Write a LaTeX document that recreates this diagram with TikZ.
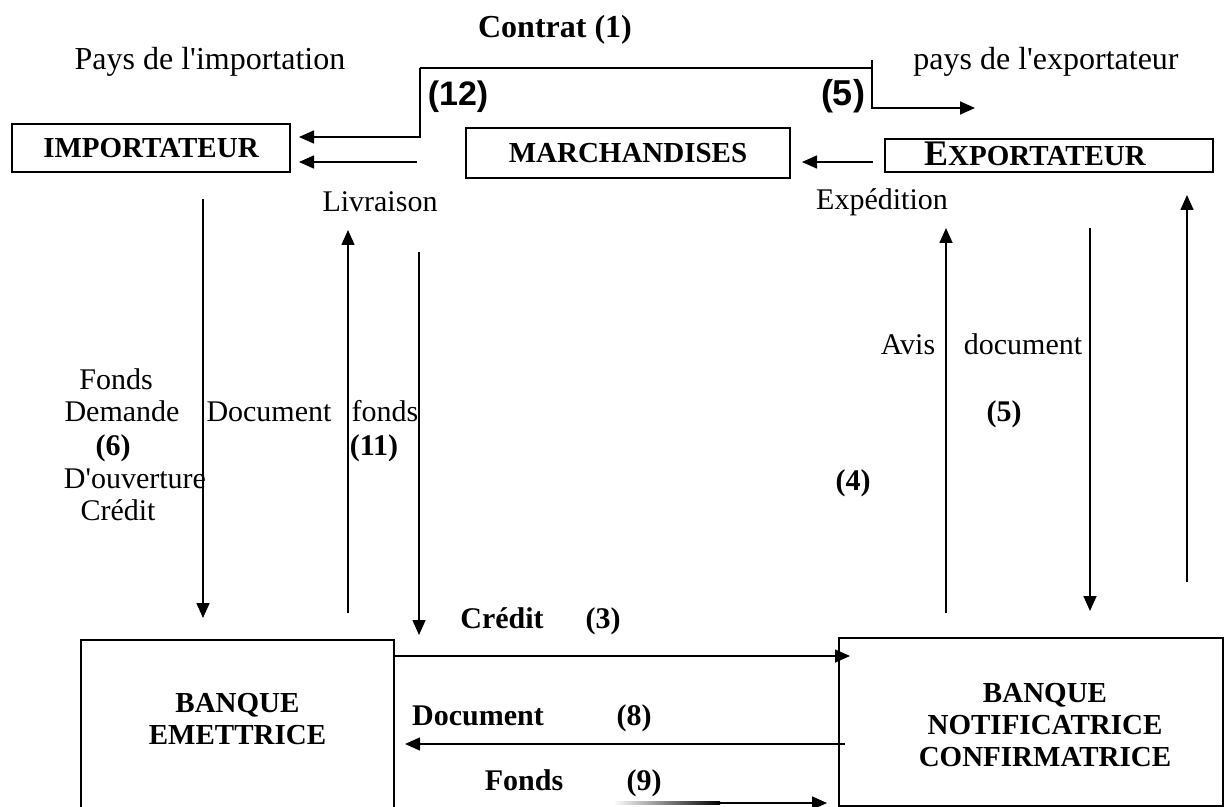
\documentclass[tikz,border=0pt]{standalone}
\usepackage{fontspec}
\setmainfont{Liberation Serif}[Ligatures=TeXOff]
\newfontfamily\numsans{Liberation Sans}
\usetikzlibrary{arrows.meta}

\begin{document}
\begin{tikzpicture}[x=0.5pt,y=-0.5pt,
  every node/.style={inner sep=0pt, outer sep=0pt},
  txt/.style={anchor=base, font=\fontsize{15}{18}\selectfont},
  bigtxt/.style={anchor=base, font=\fontsize{16}{19}\selectfont},
  bigbold/.style={anchor=base, font=\fontsize{16}{19}\selectfont\bfseries},
  num/.style={anchor=base, font=\fontsize{15}{18}\selectfont\bfseries},
  sansnum/.style={anchor=base, font=\fontsize{#1}{20}\selectfont\numsans\bfseries},
  boxlabel/.style={font=\fontsize{14.5}{16}\selectfont\bfseries, align=center},
  topbox/.style={draw, line width=0.7pt, boxlabel},
  bankbox/.style={draw, line width=1pt},
  link/.style={line width=0.8pt},
  arrow/.style={link, -{Triangle[length=7.5pt,width=6.5pt]}},
]
\useasboundingbox (0,0) rectangle (1226,807);

% ---- parties -------------------------------------------------------
\node[topbox, minimum width=139pt, minimum height=24pt] (imp) at (151,148) {IMPORTATEUR};
\node[topbox, minimum width=162pt, minimum height=25pt] (mar) at (628,153) {MARCHANDISES};
\node[topbox, minimum width=164pt, minimum height=16.5pt,
      label={[boxlabel, xshift=-7pt, yshift=1pt]center:{{\fontsize{18}{18}\selectfont E}XPORTATEUR}}]
      (exp) at (1049,155.5) {};
\node[bankbox, minimum width=156.5pt, minimum height=100pt,
      label={[boxlabel, yshift=10.5pt]center:{BANQUE\\EMETTRICE}}]
      (emet) at (237.5,740) {};
\node[bankbox, minimum width=192pt, minimum height=84pt,
      label={[boxlabel, xshift=7pt, yshift=-1.5pt]center:{BANQUE\\NOTIFICATRICE\\CONFIRMATRICE}}]
      (notif) at (1031,722) {};

% ---- headings ------------------------------------------------------
\node[bigbold] (contrat) at (555,38) {Contrat (1)};
\node[bigtxt] (paysimp) at (210,70) {Pays de l'importation};
\node[bigtxt] (paysexp) at (1046,70) {pays de l'exportateur};
\node[sansnum=17] (n12) at (458,106) {(12)};
\node[sansnum=18] (n5top) at (843,106) {(5)};

% ---- contract line ---------------------------------------------------
\coordinate (cL) at (420,68);
\coordinate (cR) at (872,68);
\coordinate (cRt) at (872,60);
\coordinate (cRb) at (872,108);
\coordinate (cEnd) at (975,108);
\coordinate (cLb) at (420,137);
\coordinate (impIn1) at (299,137);
\draw[link] (cL) -- (cR);
\draw[arrow] (cRt) -- (cRb) -- (cEnd);
\draw[arrow] (cL) -- (cLb) -- (impIn1);

% ---- goods flow ----------------------------------------------------
\coordinate (livS) at (417,162);
\coordinate (livE) at (299,162);
\draw[arrow] (livS) -- (livE);
\coordinate (expS) at (873,162);
\coordinate (expE) at (802,162);
\draw[arrow] (expS) -- (expE);
\node[txt] (livraison) at (380,212) {Livraison};
\node[txt] (expedition) at (882,210) {Expédition};

% ---- importer side verticals -----------------------------------------
\coordinate (v1a) at (203,199);  \coordinate (v1b) at (203,618);
\coordinate (v2a) at (348,613);  \coordinate (v2b) at (348,230);
\coordinate (v3a) at (419,252);  \coordinate (v3b) at (419,635);
\draw[arrow] (v1a) -- (v1b);
\draw[arrow] (v2a) -- (v2b);
\draw[arrow] (v3a) -- (v3b);

\node[txt] (fonds1) at (116,390) {Fonds};
\node[txt] (demande) at (122,422) {Demande};
\node[num] (n6) at (113,456) {(6)};
\node[txt] (ouverture) at (135,488) {D'ouverture};
\node[txt] (credit1) at (118,520) {Crédit};
\node[txt] (doc1) at (269,422) {Document};
\node[txt] (fonds2) at (385,422) {fonds};
\node[num] (n11) at (374,456) {(11)};

% ---- exporter side verticals -----------------------------------------
\coordinate (v4a) at (946,613);  \coordinate (v4b) at (946,228);
\coordinate (v5a) at (1090,228); \coordinate (v5b) at (1090,611);
\coordinate (v6a) at (1187,582); \coordinate (v6b) at (1187,195);
\draw[arrow] (v4a) -- (v4b);
\draw[arrow] (v5a) -- (v5b);
\draw[arrow] (v6a) -- (v6b);

\node[txt] (avis) at (908,355) {Avis};
\node[txt] (doc2) at (1023,355) {document};
\node[num] (n5) at (1004,422) {(5)};
\node[num] (n4) at (853,490) {(4)};

% ---- bank to bank ----------------------------------------------------
\coordinate (crS) at (394,656);
\coordinate (crE) at (850,656);
\draw[arrow] (crS) -- (crE);
\node[num] (credit2) at (502,628) {Crédit};
\node[num] (n3) at (603,628) {(3)};

\coordinate (dcS) at (845,744);
\coordinate (dcE) at (405,744);
\draw[arrow] (dcS) -- (dcE);
\node[num] (doc3) at (478,725) {Document};
\node[num] (n8) at (634,725) {(8)};

\coordinate (fdM) at (720,803);
\coordinate (fdE) at (827,803);
\shade[left color=white, right color=black] (613,801.5) rectangle (720,804.5);
\draw[arrow] (fdM) -- (fdE);
\node[num] (fonds3) at (524,790) {Fonds};
\node[num] (n9) at (644,790) {(9)};

\end{tikzpicture}
\end{document}
